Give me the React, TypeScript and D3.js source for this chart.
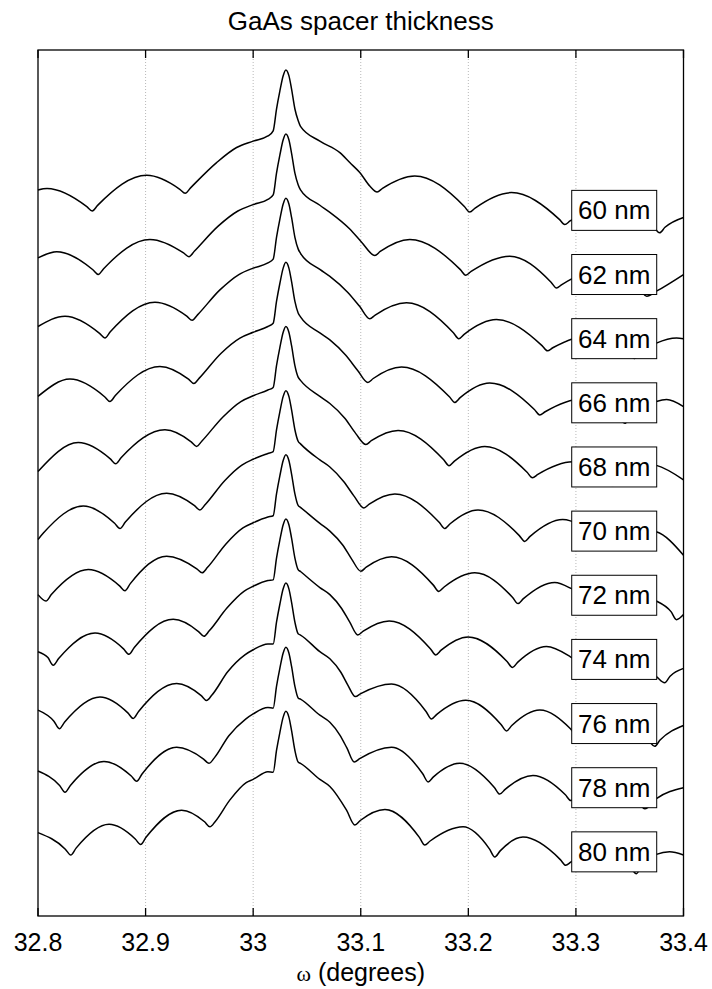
import React from "react";
import * as d3 from "d3";

type Pt = [number, number];

// ---- axis data ----
const xTickValues = [32.8, 32.9, 33.0, 33.1, 33.2, 33.3, 33.4];
const xTickLabels = ["32.8", "32.9", "33", "33.1", "33.2", "33.3", "33.4"];
const gridValues = [32.9, 33.0, 33.1, 33.2, 33.3];

// ---- series labels and vertical offsets (log-intensity decades) ----
const spacerLabels = ["60 nm", "62 nm", "64 nm", "66 nm", "68 nm", "70 nm", "72 nm", "74 nm", "76 nm", "78 nm", "80 nm"];
const curveOffsets = [11, 10, 9, 8, 7, 6, 5, 4, 3, 2, 1];

// ---- substrate Bragg peak (same for every sample), [omega, log intensity rel.] ----
const substratePeak: Pt[] = [
  [33.0186, 1.24], [33.0217, 1.58], [33.0248, 1.86], [33.0279, 2.1], [33.0304, 2.19],
  [33.0332, 2.1], [33.0357, 1.89], [33.0388, 1.58], [33.0418, 1.4],
];

// ---- layer fringes, [omega, log intensity rel.] ----
const fringes60: Pt[] = [
  [32.8, 0.317], [32.8084, 0.34], [32.8454, 0.057], [32.8504, -0.01], [32.8554, 0.078], [32.901, 0.547],
  [32.9318, 0.329], [32.9368, 0.266], [32.9418, 0.351], [32.966, 0.745], [32.9846, 0.98], [33.0, 1.08],
  [33.0137, 1.16], [33.044, 1.31], [33.062, 1.08], [33.0806, 0.9], [33.0898, 0.745], [33.0991, 0.59],
  [33.1084, 0.38], [33.1152, 0.286], [33.1202, 0.343], [33.1502, 0.536], [33.1963, 0.061], [33.2013, -0.027],
  [33.2063, 0.036], [33.2401, 0.277], [33.2846, -0.14], [33.2896, -0.22], [33.2946, -0.165], [33.3332, 0.08],
  [33.3728, -0.273], [33.3778, -0.35], [33.3828, -0.264], [33.4, -0.11],
];
const fringes62: Pt[] = [
  [32.8, 0.26], [32.8174, 0.355], [32.851, 0.074], [32.856, 0.0], [32.861, 0.091], [32.904, 0.547],
  [32.9353, 0.336], [32.9403, 0.277], [32.9453, 0.362], [32.9672, 0.75], [32.9858, 0.99], [33.0, 1.09],
  [33.0137, 1.17], [33.044, 1.32], [33.062, 1.08], [33.0713, 0.97], [33.0898, 0.71], [33.101, 0.5],
  [33.1131, 0.297], [33.1181, 0.359], [33.1456, 0.547], [33.1926, 0.076], [33.1976, -0.01], [33.2026, 0.048],
  [33.2385, 0.286], [33.2769, -0.119], [33.2819, -0.21], [33.2869, -0.156], [33.323, 0.07], [33.3608, -0.263],
  [33.3658, -0.34], [33.3748, -0.26], [33.4, 0.0],
];
const fringes64: Pt[] = [
  [32.8, 0.19], [32.8251, 0.35], [32.8572, 0.083], [32.8622, 0.01], [32.8672, 0.106], [32.9087, 0.567],
  [32.9383, 0.351], [32.9433, 0.286], [32.9483, 0.371], [32.9691, 0.76], [32.9867, 1.0], [33.0, 1.1],
  [33.0137, 1.18], [33.044, 1.33], [33.062, 1.08], [33.0713, 0.97], [33.088, 0.72], [33.0991, 0.5],
  [33.1084, 0.31], [33.1134, 0.368], [33.1425, 0.558], [33.1861, 0.092], [33.1911, 0.0], [33.1961, 0.068],
  [33.2261, 0.297], [33.2685, -0.108], [33.2735, -0.19], [33.2785, -0.142], [33.3137, 0.05], [33.3496, -0.24],
  [33.3546, -0.31], [33.3596, -0.215], [33.3748, -0.07], [33.3936, 0.01], [33.4, 0.0],
];
const fringes66: Pt[] = [
  [32.8, 0.1], [32.8297, 0.37], [32.8619, 0.095], [32.8669, 0.02], [32.8719, 0.114], [32.9133, 0.567],
  [32.9399, 0.368], [32.9449, 0.3], [32.9499, 0.385], [32.97, 0.77], [32.9877, 1.01], [33.0, 1.1],
  [33.0137, 1.19], [33.044, 1.34], [33.062, 1.09], [33.0713, 0.98], [33.0861, 0.74], [33.0973, 0.5],
  [33.1066, 0.317], [33.1116, 0.379], [33.1379, 0.558], [33.1824, 0.094], [33.1874, 0.005], [33.1924, 0.08],
  [33.2199, 0.308], [33.2614, -0.104], [33.2664, -0.19], [33.2714, -0.139], [33.3053, 0.06], [33.3404, -0.244],
  [33.3454, -0.32], [33.3504, -0.228], [33.3748, 0.02], [33.3843, 0.05], [33.4, -0.06],
];
const fringes68: Pt[] = [
  [32.8, -0.07], [32.8374, 0.38], [32.8672, 0.126], [32.8722, 0.05], [32.8772, 0.143], [32.918, 0.58],
  [32.9424, 0.391], [32.9474, 0.32], [32.9524, 0.405], [32.9719, 0.78], [32.9886, 1.02], [33.0, 1.11],
  [33.0137, 1.2], [33.044, 1.35], [33.062, 1.1], [33.0713, 0.99], [33.0852, 0.76], [33.0954, 0.52],
  [33.1048, 0.35], [33.1098, 0.409], [33.1347, 0.57], [33.1771, 0.113], [33.1821, 0.02], [33.1871, 0.092],
  [33.2153, 0.32], [33.2546, -0.082], [33.2596, -0.17], [33.2646, -0.117], [33.297, 0.08], [33.3292, -0.218],
  [33.3342, -0.3], [33.3392, -0.225], [33.3704, 0.04], [33.3748, 0.025], [33.4, -0.2],
];
const fringes70: Pt[] = [
  [32.8, -0.13], [32.805, -0.031], [32.8421, 0.39], [32.8712, 0.122], [32.8762, 0.04], [32.8812, 0.141],
  [32.9196, 0.59], [32.9455, 0.397], [32.9505, 0.33], [32.9555, 0.415], [32.9737, 0.79], [32.9895, 1.03],
  [33.0, 1.12], [33.0137, 1.21], [33.044, 1.36], [33.062, 1.11], [33.0713, 1.0], [33.0843, 0.77],
  [33.0936, 0.55], [33.1029, 0.36], [33.1079, 0.421], [33.1317, 0.58], [33.1731, 0.133], [33.1781, 0.04],
  [33.1831, 0.115], [33.209, 0.33], [33.2474, -0.07], [33.2524, -0.16], [33.2574, -0.083], [33.2877, 0.18],
  [33.2949, 0.16], [33.3208, -0.17], [33.3258, -0.28], [33.3308, -0.215], [33.363, 0.02], [33.3748, -0.01],
  [33.4, -0.375],
];
const fringes72: Pt[] = [
  [32.8, 0.01], [32.8074, -0.09], [32.8124, 0.01], [32.8467, 0.4], [32.8758, 0.147], [32.8808, 0.07],
  [32.8858, 0.181], [32.9196, 0.61], [32.9476, 0.413], [32.9526, 0.35], [32.9576, 0.435], [32.9747, 0.8],
  [32.9905, 1.05], [33.0, 1.13], [33.0137, 1.22], [33.044, 1.37], [33.062, 1.12], [33.0713, 1.0],
  [33.0834, 0.78], [33.0917, 0.56], [33.1001, 0.375], [33.1051, 0.438], [33.1286, 0.6], [33.1675, 0.158],
  [33.1725, 0.06], [33.1775, 0.129], [33.206, 0.35], [33.2412, -0.035], [33.2462, -0.13], [33.2512, -0.053],
  [33.2803, 0.2], [33.2949, 0.11], [33.3125, -0.103], [33.3175, -0.22], [33.3225, -0.171], [33.3537, 0.0],
  [33.3748, -0.09], [33.3884, -0.255], [33.3934, -0.38], [33.4, -0.3],
];
const fringes74: Pt[] = [
  [32.8, 0.12], [32.8092, 0.028], [32.8142, -0.09], [32.8192, 0.013], [32.853, 0.41], [32.8795, 0.164],
  [32.8845, 0.08], [32.8895, 0.186], [32.9257, 0.625], [32.9492, 0.434], [32.9542, 0.36], [32.9592, 0.445],
  [32.9756, 0.8], [32.9914, 1.06], [33.0, 1.14], [33.0137, 1.23], [33.044, 1.37], [33.062, 1.12],
  [33.0713, 1.01], [33.0824, 0.79], [33.0898, 0.58], [33.0973, 0.38], [33.1023, 0.44], [33.1264, 0.6],
  [33.1647, 0.168], [33.1697, 0.07], [33.1747, 0.144], [33.1998, 0.35], [33.236, -0.033], [33.241, -0.125],
  [33.246, -0.043], [33.2726, 0.2], [33.2949, 0.04], [33.3041, -0.065], [33.3091, -0.2], [33.3141, -0.155],
  [33.3444, 0.0], [33.3748, -0.27], [33.3825, -0.365], [33.3875, -0.262], [33.4, -0.14],
];
const fringes76: Pt[] = [
  [32.8, 0.21], [32.8148, 0.037], [32.8198, -0.08], [32.8248, 0.025], [32.8576, 0.415], [32.8835, 0.167],
  [32.8885, 0.08], [32.8935, 0.188], [32.9289, 0.625], [32.9517, 0.436], [32.9567, 0.36], [32.9617, 0.445],
  [32.9765, 0.81], [32.9923, 1.07], [33.0, 1.15], [33.0137, 1.24], [33.044, 1.38], [33.062, 1.12],
  [33.0713, 1.01], [33.0815, 0.8], [33.088, 0.6], [33.095, 0.42], [33.1, 0.466], [33.1286, 0.615],
  [33.1607, 0.188], [33.1657, 0.07], [33.1707, 0.144], [33.1976, 0.364], [33.2304, -0.014], [33.2354, -0.115],
  [33.2404, -0.031], [33.2664, 0.21], [33.2949, -0.08], [33.3017, -0.2], [33.3067, -0.155], [33.337, 0.0],
  [33.3682, -0.277], [33.3732, -0.355], [33.3782, -0.258], [33.4, -0.03],
];
const fringes78: Pt[] = [
  [32.8, 0.26], [32.8201, 0.035], [32.8251, -0.07], [32.8301, 0.036], [32.8613, 0.41], [32.8867, 0.182],
  [32.8917, 0.1], [32.8967, 0.214], [32.9289, 0.63], [32.9539, 0.447], [32.9589, 0.38], [32.9639, 0.465],
  [32.9774, 0.81], [32.993, 1.07], [33.0, 1.15], [33.0137, 1.25], [33.044, 1.38], [33.062, 1.13],
  [33.0713, 1.02], [33.0806, 0.82], [33.0871, 0.62], [33.094, 0.4], [33.099, 0.453], [33.1286, 0.63],
  [33.1576, 0.217], [33.1626, 0.09], [33.1676, 0.169], [33.192, 0.38], [33.2242, 0.003], [33.2292, -0.1],
  [33.2342, -0.025], [33.2601, 0.19], [33.2902, -0.111], [33.2952, -0.2], [33.3002, -0.153], [33.3295, 0.0],
  [33.359, -0.253], [33.364, -0.33], [33.3748, -0.17], [33.4, 0.0],
];
const fringes80: Pt[] = [
  [32.8, 0.3], [32.8254, 0.042], [32.8304, -0.05], [32.8354, 0.058], [32.866, 0.43], [32.8904, 0.201],
  [32.8954, 0.115], [32.9004, 0.227], [32.9335, 0.65], [32.9548, 0.469], [32.9598, 0.39], [32.9648, 0.475],
  [32.9784, 0.81], [32.9935, 1.08], [33.0, 1.13], [33.0137, 1.25], [33.044, 1.38], [33.062, 1.13],
  [33.0713, 1.02], [33.0868, 0.65], [33.0945, 0.42], [33.0995, 0.489], [33.1225, 0.66], [33.1545, 0.225],
  [33.1595, 0.105], [33.1645, 0.169], [33.1951, 0.39], [33.2196, 0.047], [33.2246, -0.08], [33.2296, 0.015],
  [33.2508, 0.23], [33.2855, -0.121], [33.2905, -0.21], [33.2955, -0.157], [33.3221, 0.0], [33.3512, -0.26],
  [33.3562, -0.34], [33.3612, -0.21], [33.3748, -0.04], [33.3871, 0.0], [33.4, -0.05],
];

const allFringes: Pt[][] = [
  fringes60, fringes62, fringes64, fringes66, fringes68, fringes70,
  fringes72, fringes74, fringes76, fringes78, fringes80,
];

const FONT = "'Liberation Sans', Arial, Helvetica, sans-serif";

export default function App() {
  const width = 712;
  const height = 989;
  const left = 38;
  const right = 683.5;
  const top = 50;
  const bottom = 916;

  const x = d3.scaleLinear().domain([32.8, 33.4]).range([left, right]);
  const y = d3.scaleLinear().domain([0, 13.5]).range([bottom, top]);

  const line = d3
    .line<Pt>()
    .x((d) => x(d[0]))
    .y((d) => y(d[1]))
    .curve(d3.curveMonotoneX);

  const series = allFringes.map((fr, i) =>
    [...fr, ...substratePeak]
      .sort((a, b) => a[0] - b[0])
      .map((p) => [p[0], p[1] + curveOffsets[i]] as Pt)
  );

  const boxX0 = x(33.2961);
  const boxX1 = x(33.3751);
  const boxH = 40;

  return (
    <svg
      width={width}
      height={height}
      style={{ position: "absolute", left: 0, top: 0, background: "#fff" }}
      fontFamily={FONT}
    >
      <rect x={0} y={0} width={width} height={height} fill="#fff" />
      {gridValues.map((g) => (
        <line
          key={"g" + g}
          x1={x(g)}
          x2={x(g)}
          y1={top}
          y2={bottom}
          stroke="#b8b8b8"
          strokeWidth={1}
          strokeDasharray="1 2"
        />
      ))}
      {series.map((pts, i) => (
        <path key={"c" + i} d={line(pts) || ""} fill="none" stroke="#000" strokeWidth={1.5} />
      ))}
      {spacerLabels.map((lab, i) => {
        const cy = y(curveOffsets[i]);
        return (
          <g key={"l" + i}>
            <rect
              x={boxX0}
              y={cy - boxH / 2}
              width={boxX1 - boxX0}
              height={boxH}
              fill="#fff"
              stroke="#000"
              strokeWidth={1}
            />
            <text x={(boxX0 + boxX1) / 2} y={cy + 9} fontSize={26} textAnchor="middle" fill="#000">
              {lab}
            </text>
          </g>
        );
      })}
      <rect x={left} y={top} width={right - left} height={bottom - top} fill="none" stroke="#000" strokeWidth={1.3} />
      {xTickValues.map((t, i) => (
        <g key={"t" + i}>
          <line x1={x(t)} x2={x(t)} y1={bottom} y2={bottom - 8} stroke="#000" strokeWidth={1.3} />
          <line x1={x(t)} x2={x(t)} y1={top} y2={top + 8} stroke="#000" strokeWidth={1.3} />
          <text x={x(t)} y={951} fontSize={25} textAnchor="middle" fill="#000">
            {xTickLabels[i]}
          </text>
        </g>
      ))}
      <text x={(left + right) / 2} y={981} fontSize={25} textAnchor="middle" fill="#000">
        <tspan fontFamily="'Liberation Serif', 'DejaVu Serif', serif" fontSize={22}>ω</tspan>
        <tspan> (degrees)</tspan>
      </text>
      <text x={(left + right) / 2} y={30} fontSize={26} textAnchor="middle" fill="#000">
        GaAs spacer thickness
      </text>
    </svg>
  );
}
